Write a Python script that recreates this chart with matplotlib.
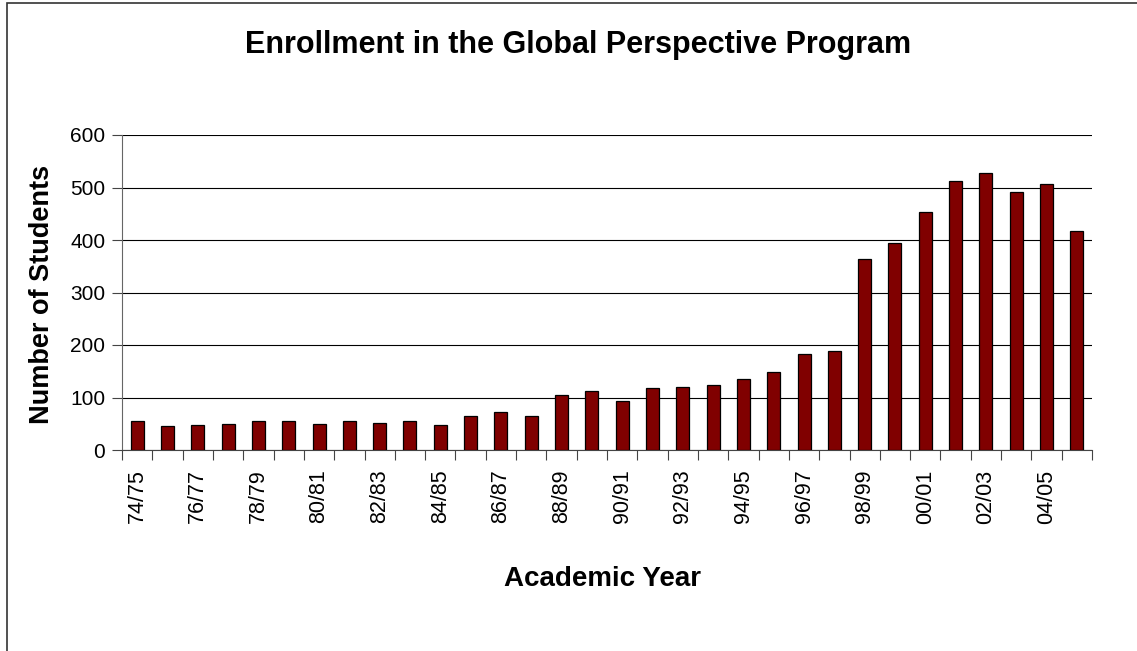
import matplotlib.pyplot as plt
from matplotlib.patches import Rectangle

# academic years 74/75 .. 05/06
years = ['74/75', '75/76', '76/77', '77/78', '78/79', '79/80', '80/81', '81/82',
         '82/83', '83/84', '84/85', '85/86', '86/87', '87/88', '88/89', '89/90',
         '90/91', '91/92', '92/93', '93/94', '94/95', '95/96', '96/97', '97/98',
         '98/99', '99/00', '00/01', '01/02', '02/03', '03/04', '04/05', '05/06']
students = [55, 46, 48, 50, 55, 55, 50, 55, 52, 56, 48, 64, 72, 64, 104, 112,
            94, 118, 120, 123, 135, 148, 183, 188, 363, 395, 454, 512, 527, 492,
            506, 417]

plt.rcParams['font.family'] = ['Liberation Sans', 'DejaVu Sans']

fig = plt.figure(figsize=(11.37, 6.51), dpi=100)
ax = fig.add_axes([122/1137, 1-450/651, (1092-122)/1137, (450-135)/651])

x = list(range(len(years)))
ax.bar(x, students, width=0.43, color='#800000', edgecolor='black', linewidth=0.9, zorder=3)

ax.set_xlim(-0.5, len(years)-0.5)
ax.set_ylim(0, 600)
ax.set_yticks(range(0, 601, 100))
ax.yaxis.grid(True, color='black', linewidth=0.8, zorder=0)
ax.tick_params(axis='y', labelsize=15, length=7, width=0.8, color='#444444', pad=5)

# labels under every other bar, tick marks between categories
ax.set_xticks(x[::2])
ax.set_xticklabels(years[::2], rotation=90, fontsize=15.5)
ax.tick_params(axis='x', which='major', length=0, pad=14)
ax.set_xticks([i - 0.5 for i in range(len(years)+1)], minor=True)
ax.tick_params(axis='x', which='minor', length=7, width=0.8, color='#444444')

for s in ['top', 'right']:
    ax.spines[s].set_visible(False)
ax.spines['left'].set_color('#666666')
ax.spines['bottom'].set_color('#444444')

fig.text(578/1137, 1-53/651, 'Enrollment in the Global Perspective Program',
         ha='center', va='baseline', fontsize=22, fontweight='bold')
fig.text(602/1137, 1-586/651, 'Academic Year', ha='center', va='baseline',
         fontsize=20, fontweight='bold')
fig.text(42/1137, 1-294/651, 'Number of Students', ha='center', va='center',
         rotation=90, fontsize=19.5, fontweight='bold')

# chart border (cropped on the right and bottom)
fig.patches.append(Rectangle((7/1137, -0.1), 1.2, 1-3/651+0.1, transform=fig.transFigure,
                             fill=False, edgecolor='#333333', linewidth=1.2))

fig.savefig('out.png', dpi=100)
